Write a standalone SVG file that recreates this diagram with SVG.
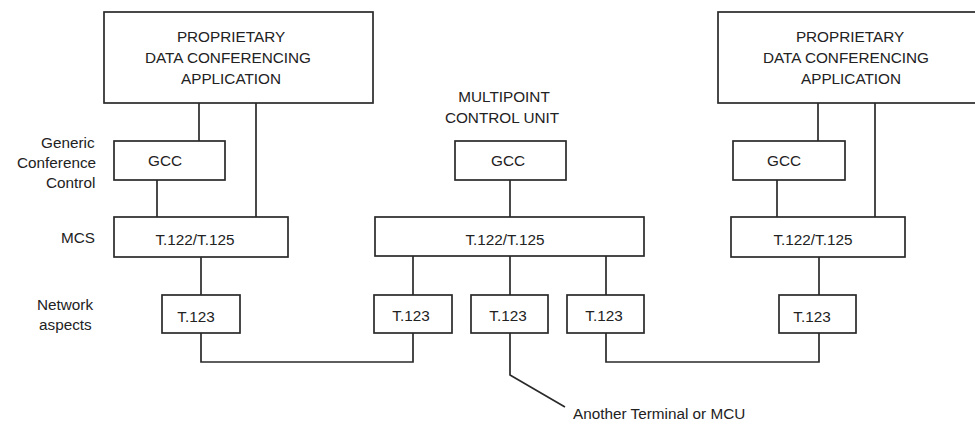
<svg xmlns="http://www.w3.org/2000/svg" width="975" height="424" viewBox="0 0 975 424">
<style>
.box{fill:#fff;stroke:#2a2a2a;stroke-width:1.7}
.ln{fill:none;stroke:#2a2a2a;stroke-width:1.7}
text{font-family:"Liberation Sans",Arial,sans-serif;font-size:15.3px;fill:#222}
.m{text-anchor:middle}
</style>
<rect width="975" height="424" fill="#fff"/>
<g id="connectors">
<line class="ln" x1="199" y1="103" x2="199" y2="141"/>
<line class="ln" x1="256" y1="103" x2="256" y2="217"/>
<line class="ln" x1="157" y1="180" x2="157" y2="217"/>
<line class="ln" x1="201" y1="257" x2="201" y2="295"/>
<path class="ln" d="M201 333 V362 H413 V333"/>
<line class="ln" x1="510" y1="180" x2="510" y2="217"/>
<line class="ln" x1="413" y1="256" x2="413" y2="295"/>
<line class="ln" x1="510" y1="256" x2="510" y2="295"/>
<line class="ln" x1="606" y1="256" x2="606" y2="295"/>
<path class="ln" d="M510 333 V375 L565 407"/>
<line class="ln" x1="818" y1="103" x2="818" y2="141"/>
<line class="ln" x1="875" y1="103" x2="875" y2="217"/>
<line class="ln" x1="777" y1="180" x2="777" y2="217"/>
<line class="ln" x1="819" y1="257" x2="819" y2="295"/>
<path class="ln" d="M606 333 V362 H819 V333"/>
</g>
<g id="labels">
<text x="41" y="148">Generic</text>
<text x="17" y="168">Conference</text>
<text x="46" y="188">Control</text>
<text x="61" y="243">MCS</text>
<text x="37" y="310">Network</text>
<text x="39" y="330">aspects</text>
<text class="m" x="504" y="102">MULTIPOINT</text>
<text class="m" x="502" y="123">CONTROL UNIT</text>
<text x="573" y="419">Another Terminal or MCU</text>
</g>
<g id="app-left">
<rect class="box" x="104" y="12" width="269" height="91"/>
<text class="m" x="231" y="42">PROPRIETARY</text>
<text class="m" x="228" y="63">DATA CONFERENCING</text>
<text class="m" x="231" y="84">APPLICATION</text>
</g>
<g id="gcc-left">
<rect class="box" x="114" y="141" width="111" height="39"/>
<text class="m" x="165" y="166">GCC</text>
</g>
<g id="mcs-left">
<rect class="box" x="114" y="217" width="174" height="40"/>
<text class="m" x="195" y="245">T.122/T.125</text>
</g>
<g id="t123-left">
<rect class="box" x="162" y="295" width="78" height="38"/>
<text class="m" x="196" y="322">T.123</text>
</g>
<g id="gcc-mcu">
<rect class="box" x="455" y="141" width="111" height="39"/>
<text class="m" x="508" y="166">GCC</text>
</g>
<g id="mcs-mcu">
<rect class="box" x="375" y="217" width="269" height="39"/>
<text class="m" x="505" y="245">T.122/T.125</text>
</g>
<g id="t123-mcu-1">
<rect class="box" x="374" y="295" width="78" height="38"/>
<text class="m" x="411" y="321">T.123</text>
</g>
<g id="t123-mcu-2">
<rect class="box" x="471" y="295" width="77" height="38"/>
<text class="m" x="508" y="321">T.123</text>
</g>
<g id="t123-mcu-3">
<rect class="box" x="567" y="295" width="77" height="38"/>
<text class="m" x="604" y="321">T.123</text>
</g>
<g id="app-right">
<rect class="box" x="718" y="12" width="269" height="91"/>
<text class="m" x="850" y="42">PROPRIETARY</text>
<text class="m" x="846" y="63">DATA CONFERENCING</text>
<text class="m" x="851" y="84">APPLICATION</text>
</g>
<g id="gcc-right">
<rect class="box" x="733" y="141" width="112" height="39"/>
<text class="m" x="784" y="166">GCC</text>
</g>
<g id="mcs-right">
<rect class="box" x="731" y="217" width="174" height="40"/>
<text class="m" x="813" y="245">T.122/T.125</text>
</g>
<g id="t123-right">
<rect class="box" x="779" y="295" width="77" height="38"/>
<text class="m" x="812" y="322">T.123</text>
</g>
</svg>
